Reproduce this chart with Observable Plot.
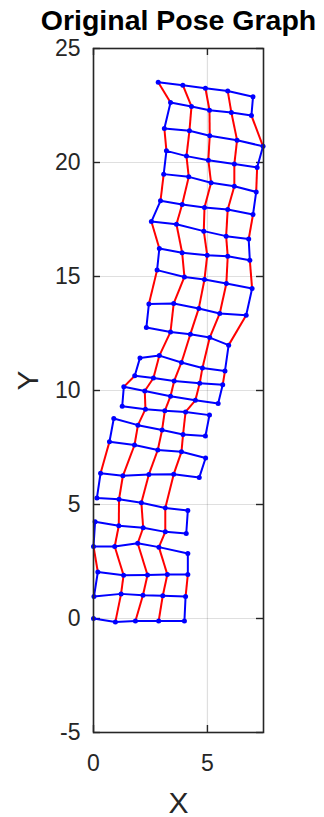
<!DOCTYPE html>
<html>
<head>
<meta charset="utf-8">
<script src="https://cdn.jsdelivr.net/npm/d3@7"></script>
<script src="https://cdn.jsdelivr.net/npm/@observablehq/plot@0.6"></script>
<style>
  html, body { margin: 0; padding: 0; background: #ffffff; }
  #chart svg { display: block; }
</style>
</head>
<body>
<div id="chart"></div>
<script>
// Pose estimates in node-ID order (the robot sweeps the area row by row).
const poseX = [
  0.00, 0.96, 1.84, 2.86, 3.99,   4.04, 3.04, 2.17, 1.21, 0.02,
  0.19, 1.32, 2.37, 3.24, 4.14,   4.14, 2.87, 1.94, 0.93, 0.00,
  0.07, 1.11, 2.18, 3.15, 4.07,   4.14, 3.15, 2.10, 1.12, 0.15,
  0.31, 1.29, 2.43, 3.52, 4.64,   4.92, 3.86, 2.82, 1.80, 0.70,
  0.89, 1.95, 3.01, 3.93, 4.91,   5.09, 4.04, 3.13, 2.28, 1.26,
  1.33, 2.25, 3.38, 4.47, 5.47,   5.67, 4.66, 3.54, 2.63, 1.81,
  2.04, 2.89, 3.86, 4.78, 5.77,   5.93, 5.10, 4.25, 3.38, 2.32,
  2.43, 3.52, 4.62, 5.54, 6.70,   6.96, 5.83, 4.87, 3.99, 2.79,
  2.89, 3.89, 4.99, 5.89, 6.86,   6.81, 5.82, 4.84, 3.64, 2.54,
  2.94, 3.89, 4.87, 5.89, 7.00,   7.14, 6.18, 5.16, 4.18, 3.08,
  3.20, 4.08, 5.04, 6.18, 7.18,   7.44, 6.30, 5.10, 4.21, 3.11,
  3.38, 4.30, 5.09, 6.05, 6.93,   7.00, 5.89, 4.91, 3.92, 2.84
];
const poseY = [
   0.00, -0.15, -0.11, -0.11, -0.11,   0.96,  1.00,  1.02,  1.08,  0.96,
   2.04,  1.90,  1.91,  1.93,  1.93,   2.85,  3.13,  3.30,  3.16,  3.16,
   4.24,  4.07,  3.98,  3.80,  3.73,   4.74,  4.85,  5.08,  5.23,  5.29,
   6.37,  6.26,  6.32,  6.33,  6.18,   7.04,  7.31,  7.39,  7.61,  7.75,
   8.77,  8.48,  8.27,  8.07,  8.00,   8.92,  9.06,  9.11,  9.18,  9.31,
  10.16,  9.98,  9.75,  9.57,  9.43,  10.25, 10.32, 10.42, 10.55, 10.65,
  11.43, 11.53, 11.23, 10.99, 10.86,  11.99, 12.32, 12.47, 12.57, 12.76,
  13.79, 13.82, 13.60, 13.38, 13.30,  14.47, 14.69, 14.87, 14.98, 15.28,
  16.23, 16.04, 15.93, 15.89, 15.71,  16.64, 16.77, 16.99, 17.29, 17.41,
  18.32, 18.16, 18.03, 17.94, 17.72,  18.71, 18.96, 19.11, 19.37, 19.49,
  20.51, 20.28, 20.10, 19.93, 19.78,  20.71, 20.98, 21.17, 21.39, 21.49,
  22.63, 22.46, 22.29, 22.19, 22.06,  22.88, 23.14, 23.26, 23.39, 23.52
];

// Loop-closure edges (node IDs, 1-based).
const loopFrom = [
   2,  3,  4,   9,  8,  7,  6,  11, 12, 13, 14,  19, 18, 17,
  22, 23, 24,  29, 28, 27,  31, 32, 33, 34,  39, 38, 37,
  42, 43, 44,  49, 48, 47,  51, 52, 53, 54,  59, 58, 57, 56,
  62, 63, 64,  69, 68, 67, 66,  71, 72, 73, 74,  79, 78, 77, 76,
  81, 82, 83, 84,  89, 88, 87, 86,  91, 92, 93, 94,  99, 98, 97, 96,
  101, 102, 103, 104,  109, 108, 107, 106,  111, 112, 113, 114
];
const loopTo = [
   9,  8,  7,  12, 13, 14, 15,  20, 19, 18, 17,  22, 23, 24,
  29, 28, 27,  32, 33, 34,  40, 39, 38, 37,  42, 43, 44,
  49, 48, 47,  52, 53, 54,  60, 59, 58, 57,  62, 63, 64, 65,
  69, 68, 67,  72, 73, 74, 75,  80, 79, 78, 77,  82, 83, 84, 85,
  90, 89, 88, 87,  92, 93, 94, 95,  100, 99, 98, 97,  102, 103, 104, 105,
  110, 109, 108, 107,  112, 113, 114, 115,  120, 119, 118, 117
];

const xTicks = [0, 5];
const yTicks = [-5, 0, 5, 10, 15, 20, 25];
const xDomain = [0, 7.46];
const yDomain = [-5, 25];
const titleText = "Original Pose Graph";
const xLabel = "X";
const yLabel = "Y";

const poses = poseX.map((x, i) => ({id: i + 1, x, y: poseY[i]}));
const loops = loopFrom.map((a, i) => ({a: poses[a - 1], b: poses[loopTo[i] - 1]}));

const axisColor = "#262626";
const tickLen = 0.307; // inward tick length in data units (axes are equal-scaled)
const plainNumber = d => `${d}`; // hyphen-minus for negative ticks

const chart = Plot.plot({
  width: 324,
  height: 817,
  marginLeft: 93,
  marginRight: 61,
  marginTop: 48,
  marginBottom: 85,
  x: {domain: xDomain},
  y: {domain: yDomain},
  style: {fontFamily: "'Liberation Sans', Arial, Helvetica, sans-serif", color: axisColor, background: "#ffffff"},
  marks: [
    Plot.gridX(xTicks, {stroke: axisColor, strokeOpacity: 0.15, strokeWidth: 1.2}),
    Plot.gridY(yTicks, {stroke: axisColor, strokeOpacity: 0.15, strokeWidth: 1.2}),
    // inward tick marks on all four sides
    Plot.ruleX(xTicks, {x: d => d, y1: yDomain[0], y2: yDomain[0] + tickLen, stroke: axisColor, strokeWidth: 1.4}),
    Plot.ruleX(xTicks, {x: d => d, y1: yDomain[1], y2: yDomain[1] - tickLen, stroke: axisColor, strokeWidth: 1.4}),
    Plot.ruleY(yTicks, {y: d => d, x1: xDomain[0], x2: xDomain[0] + tickLen, stroke: axisColor, strokeWidth: 1.4}),
    Plot.ruleY(yTicks, {y: d => d, x1: xDomain[1], x2: xDomain[1] - tickLen, stroke: axisColor, strokeWidth: 1.4}),
    Plot.axisX({ticks: xTicks, tickSize: 0, tickPadding: 22, fontSize: 23, label: null, tickFormat: plainNumber}),
    Plot.axisY({ticks: yTicks, tickSize: 0, tickPadding: 13, fontSize: 23, label: null, tickFormat: plainNumber}),
    // loop closures
    Plot.link(loops, {
      x1: d => d.a.x, y1: d => d.a.y, x2: d => d.b.x, y2: d => d.b.y,
      stroke: "#ff0000", strokeWidth: 2
    }),
    // odometry chain
    Plot.line(poses, {x: "x", y: "y", stroke: "#0000ff", strokeWidth: 2, curve: "linear"}),
    Plot.dot(poses, {x: "x", y: "y", r: 2.5, fill: "#0000ff", stroke: null}),
    Plot.frame({stroke: axisColor, strokeWidth: 1.6}),
    Plot.text([titleText], {frameAnchor: "top", dy: -19, lineAnchor: "bottom", fontSize: 28.5, fontWeight: "bold", fill: "#000000"}),
    Plot.text([xLabel], {frameAnchor: "bottom", dy: 80, lineAnchor: "bottom", fontSize: 30, fill: axisColor}),
    Plot.text([yLabel], {frameAnchor: "left", dx: -65, rotate: -90, lineAnchor: "middle", fontSize: 30, fill: axisColor})
  ]
});

document.getElementById("chart").appendChild(chart);
</script>
</body>
</html>
